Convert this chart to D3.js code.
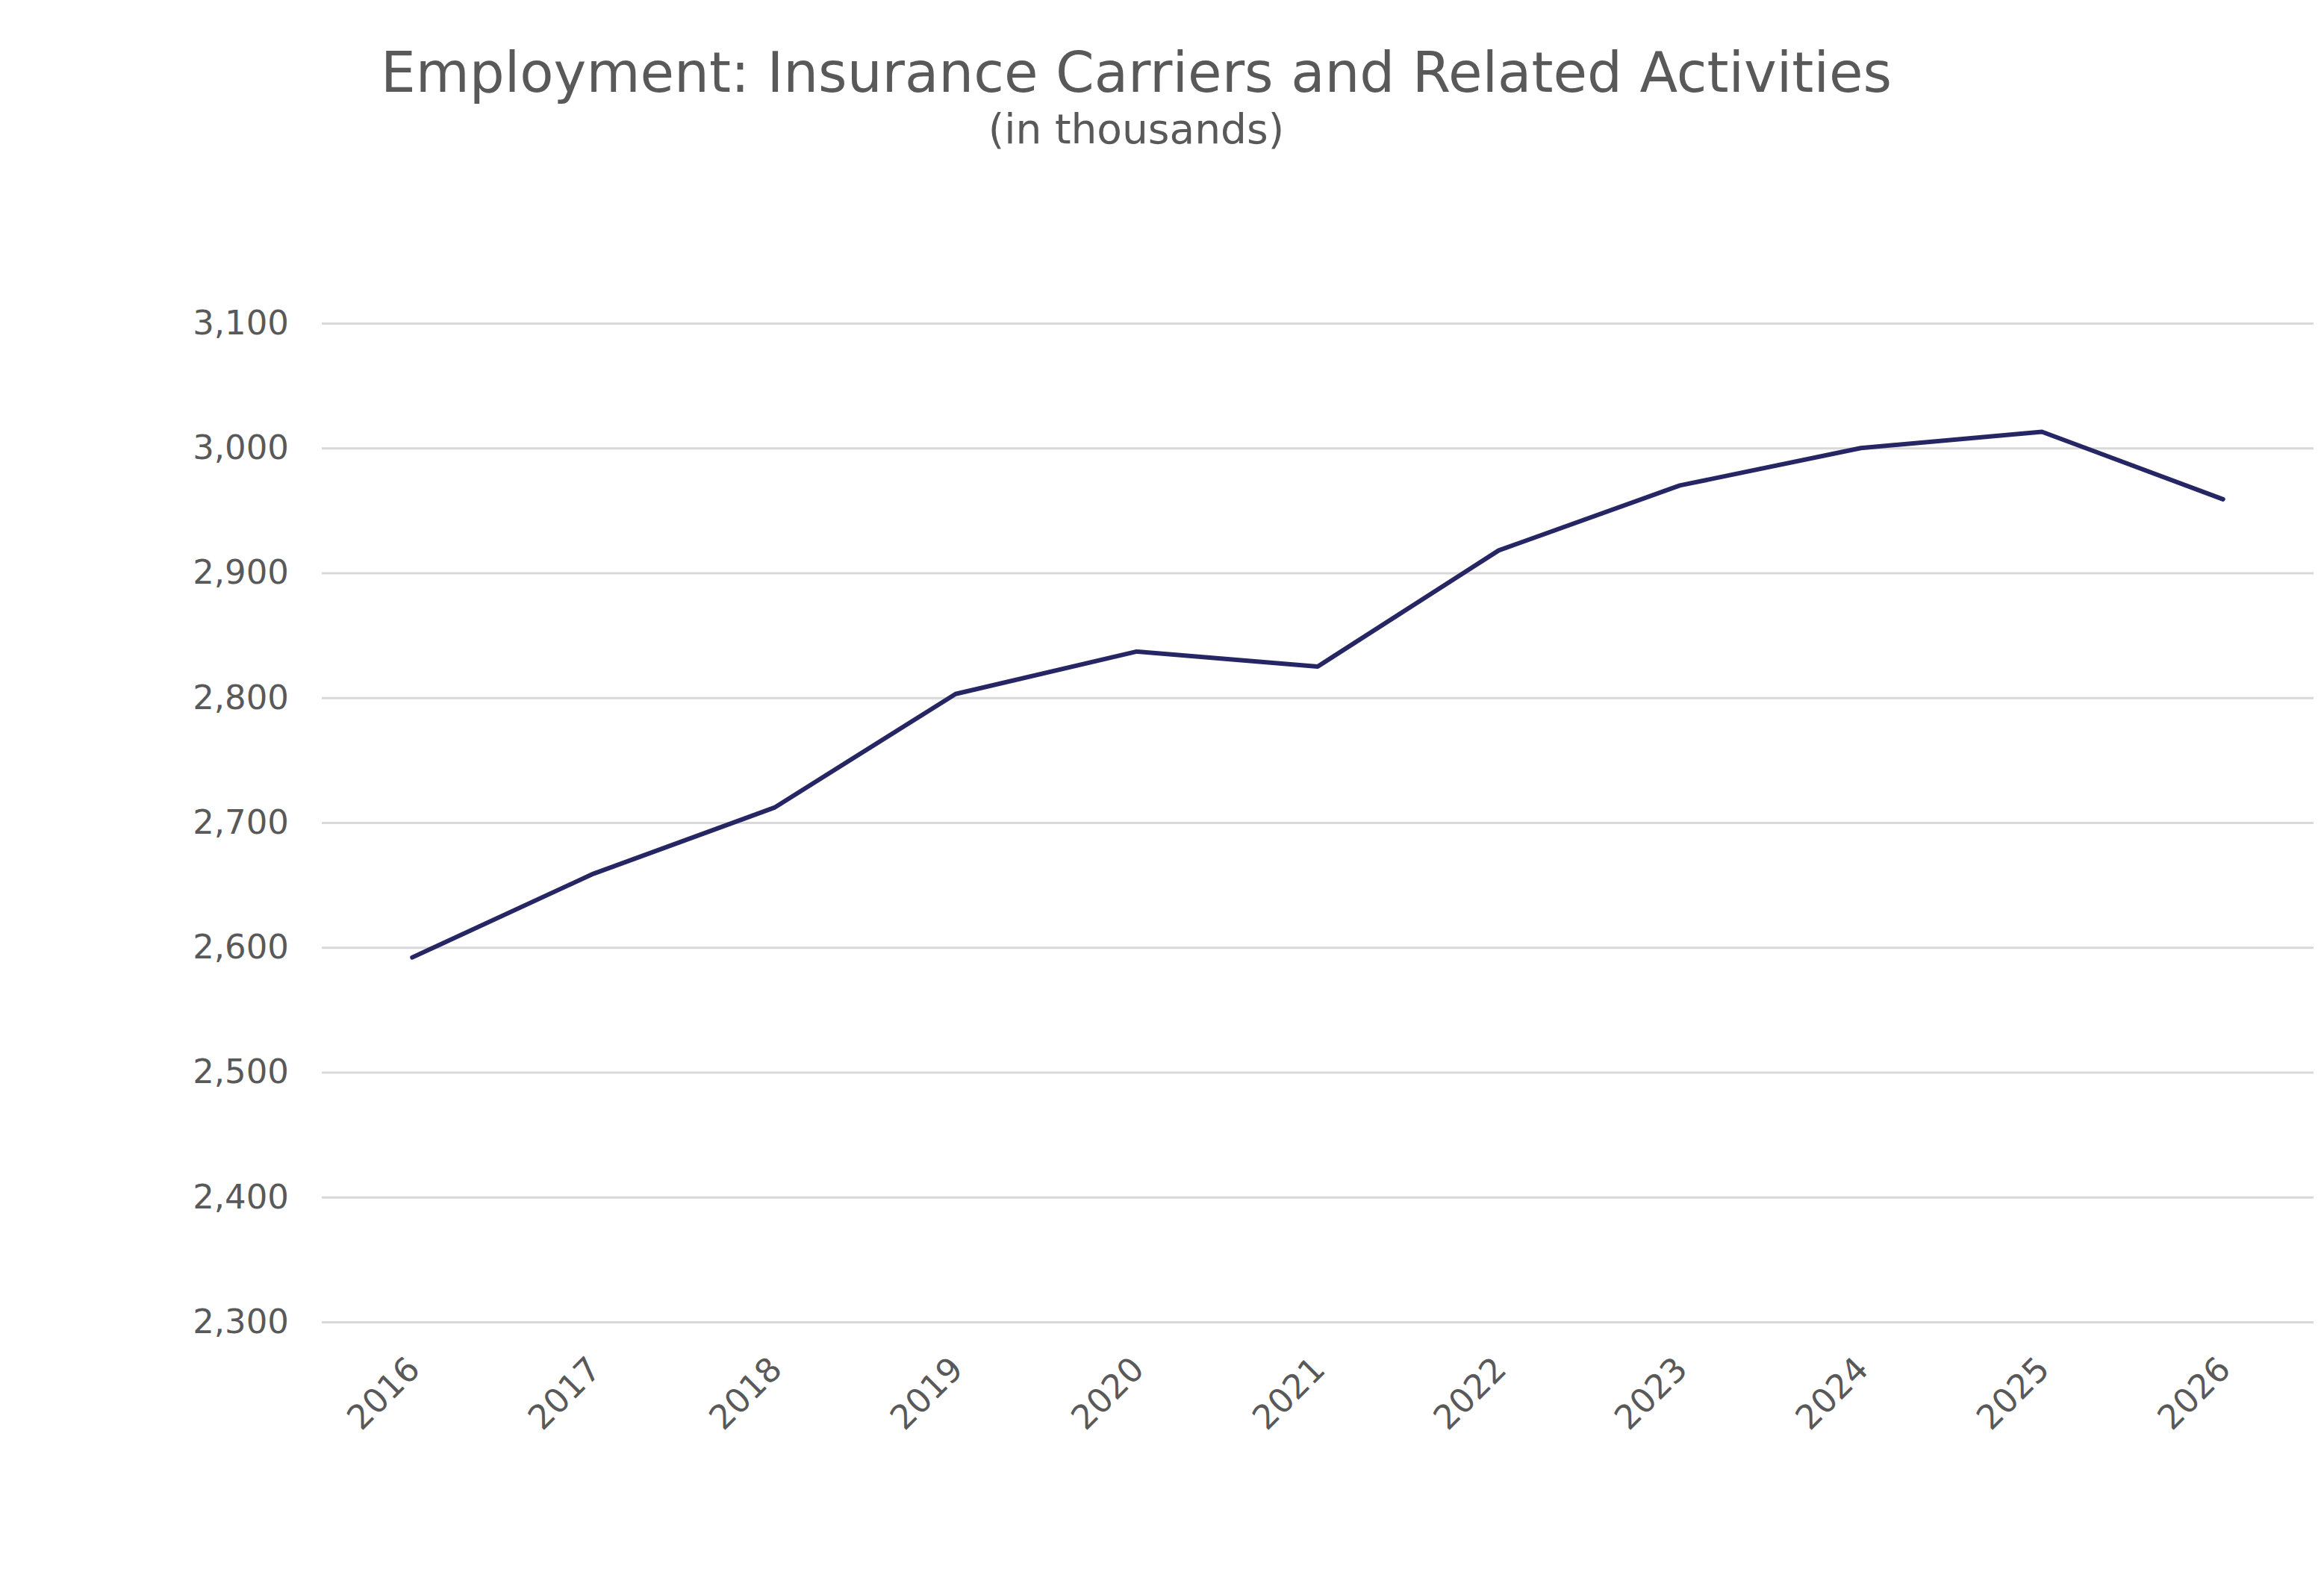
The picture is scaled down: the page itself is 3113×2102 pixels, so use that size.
<!DOCTYPE html>
<html>
<head>
<meta charset="utf-8">
<script src="https://cdn.jsdelivr.net/npm/d3@7"></script>
<style>
  html, body { margin: 0; padding: 0; background: #fff; }
  text { font-family: "DejaVu Sans", Verdana, sans-serif; fill: #595959; }
</style>
</head>
<body>
<div id="chart"></div>
<script>
// données (en milliers)
const years = ["2016", "2017", "2018", "2019", "2020", "2021", "2022", "2023", "2024", "2025", "2026"];
const employment = [2592, 2659, 2712, 2803, 2837, 2825, 2918, 2970, 3000, 3013, 2959];
const yTicks = [2300, 2400, 2500, 2600, 2700, 2800, 2900, 3000, 3100];

const width = 3113, height = 2102;
const margin = {left: 431, right: 14, top: 433, bottom: 331};

const svg = d3.select("#chart").append("svg")
    .attr("width", width)
    .attr("height", height);

const x = d3.scalePoint()
    .domain(years)
    .range([margin.left, width - margin.right])
    .padding(0.5);

const y = d3.scaleLinear()
    .domain([2300, 3100])
    .range([height - margin.bottom, margin.top]);

// titre
svg.append("text")
    .attr("x", 1522).attr("y", 123)
    .attr("text-anchor", "middle")
    .style("font-size", "74px")
    .text("Employment: Insurance Carriers and Related Activities");
svg.append("text")
    .attr("x", 1522).attr("y", 192)
    .attr("text-anchor", "middle")
    .style("font-size", "55px")
    .text("(in thousands)");

// grille + axe y
const yAxis = svg.append("g")
    .attr("transform", `translate(${margin.left},0)`)
    .call(d3.axisLeft(y).tickValues(yTicks).tickFormat(d3.format(",")).tickSize(-(width - margin.left - margin.right)).tickPadding(44));
yAxis.select(".domain").remove();
yAxis.selectAll(".tick line").attr("stroke", "#d9d9d9").attr("stroke-width", 3);
yAxis.selectAll(".tick text").style("font-size", "45px").attr("fill", "#595959");

// axe x
const xAxis = svg.append("g")
    .attr("transform", `translate(0,${height - margin.bottom})`)
    .call(d3.axisBottom(x).tickSize(0));
xAxis.select(".domain").remove();
xAxis.selectAll(".tick text")
    .style("font-size", "45px")
    .attr("fill", "#595959")
    .attr("text-anchor", "end")
    .attr("dy", null)
    .attr("transform", "translate(10,64) rotate(-45)");

// courbe
const line = d3.line()
    .x((d, i) => x(years[i]))
    .y(d => y(d));

svg.append("path")
    .datum(employment)
    .attr("fill", "none")
    .attr("stroke", "#262664")
    .attr("stroke-width", 6)
    .attr("stroke-linejoin", "round")
    .attr("stroke-linecap", "round")
    .attr("d", line);
</script>
</body>
</html>
